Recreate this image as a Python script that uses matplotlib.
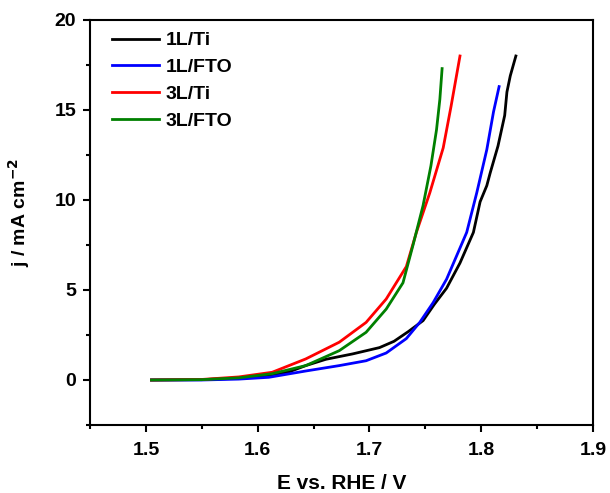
import matplotlib.pyplot as plt
from matplotlib.ticker import MultipleLocator

plt.rcParams['font.family'] = ['Liberation Sans', 'DejaVu Sans']
plt.rcParams['font.weight'] = 'bold'

labels = ['1L/Ti', '1L/FTO', '3L/Ti', '3L/FTO']
colors = ['black', 'blue', 'red', 'green']

e_1l_ti = [1.505, 1.55, 1.583, 1.61, 1.628, 1.643, 1.661, 1.685, 1.709, 1.722, 1.735, 1.748,
           1.758, 1.769, 1.781, 1.793, 1.799, 1.805, 1.808, 1.815, 1.821, 1.823, 1.826, 1.831]
j_1l_ti = [0, 0.02, 0.1, 0.25, 0.45, 0.8, 1.15, 1.45, 1.8, 2.15, 2.7, 3.3,
           4.2, 5.1, 6.5, 8.2, 9.9, 10.8, 11.5, 13.0, 14.7, 16.0, 16.9, 18.0]

e_1l_fto = [1.505, 1.55, 1.583, 1.61, 1.643, 1.673, 1.697, 1.715, 1.733, 1.745, 1.757,
            1.769, 1.787, 1.796, 1.805, 1.811, 1.816]
j_1l_fto = [0, 0.0, 0.05, 0.15, 0.5, 0.8, 1.07, 1.5, 2.3, 3.2, 4.3,
            5.6, 8.2, 10.4, 12.8, 14.9, 16.3]

e_3l_ti = [1.505, 1.55, 1.583, 1.613, 1.643, 1.673, 1.697, 1.715, 1.733, 1.742, 1.754,
           1.766, 1.773, 1.781]
j_3l_ti = [0, 0.03, 0.17, 0.43, 1.17, 2.1, 3.2, 4.5, 6.3, 8.2, 10.4,
           12.9, 15.2, 18.0]

e_3l_fto = [1.505, 1.55, 1.583, 1.613, 1.643, 1.673, 1.697, 1.715, 1.730, 1.739, 1.748,
            1.755, 1.760, 1.763, 1.765]
j_3l_fto = [0, 0.02, 0.12, 0.35, 0.8, 1.63, 2.65, 3.94, 5.4, 7.5, 9.7,
            11.9, 13.9, 15.6, 17.3]

series = [(e_1l_ti, j_1l_ti), (e_1l_fto, j_1l_fto), (e_3l_ti, j_3l_ti), (e_3l_fto, j_3l_fto)]

fig = plt.figure(figsize=(6.1, 4.93), dpi=100)
ax = fig.add_axes([90 / 610, 1 - 425 / 493, 503 / 610, 405 / 493])

for (e, j), lab, c in zip(series, labels, colors):
    ax.plot(e, j, color=c, lw=2, label=lab)

ax.set_xlim(1.45, 1.9)
ax.set_ylim(-2.5, 20)
ax.xaxis.set_major_locator(MultipleLocator(0.1))
ax.xaxis.set_minor_locator(MultipleLocator(0.05))
ax.yaxis.set_major_locator(MultipleLocator(5))
ax.yaxis.set_minor_locator(MultipleLocator(2.5))
ax.tick_params(which='major', direction='out', length=5, width=1.5, labelsize=14)
ax.tick_params(which='minor', direction='out', length=3, width=1.5)
ax.tick_params(axis='x', which='major', pad=7)
ax.tick_params(axis='y', which='major', pad=5)
for s in ax.spines.values():
    s.set_linewidth(1.5)

ax.set_xlabel('E vs. RHE / V', fontsize=15, fontweight='bold', labelpad=11)
ax.set_ylabel('j / mA cm$^{\\mathbf{-2}}$', fontsize=14, fontweight='bold')
ax.yaxis.set_label_coords(-0.115, 0.525)

ax.legend(loc='upper left', bbox_to_anchor=(0.028, 0.99), borderaxespad=0, frameon=False,
          fontsize=14, handlelength=2.4, handletextpad=0.36, labelspacing=0.47)

fig.savefig('out.png', dpi=100)
